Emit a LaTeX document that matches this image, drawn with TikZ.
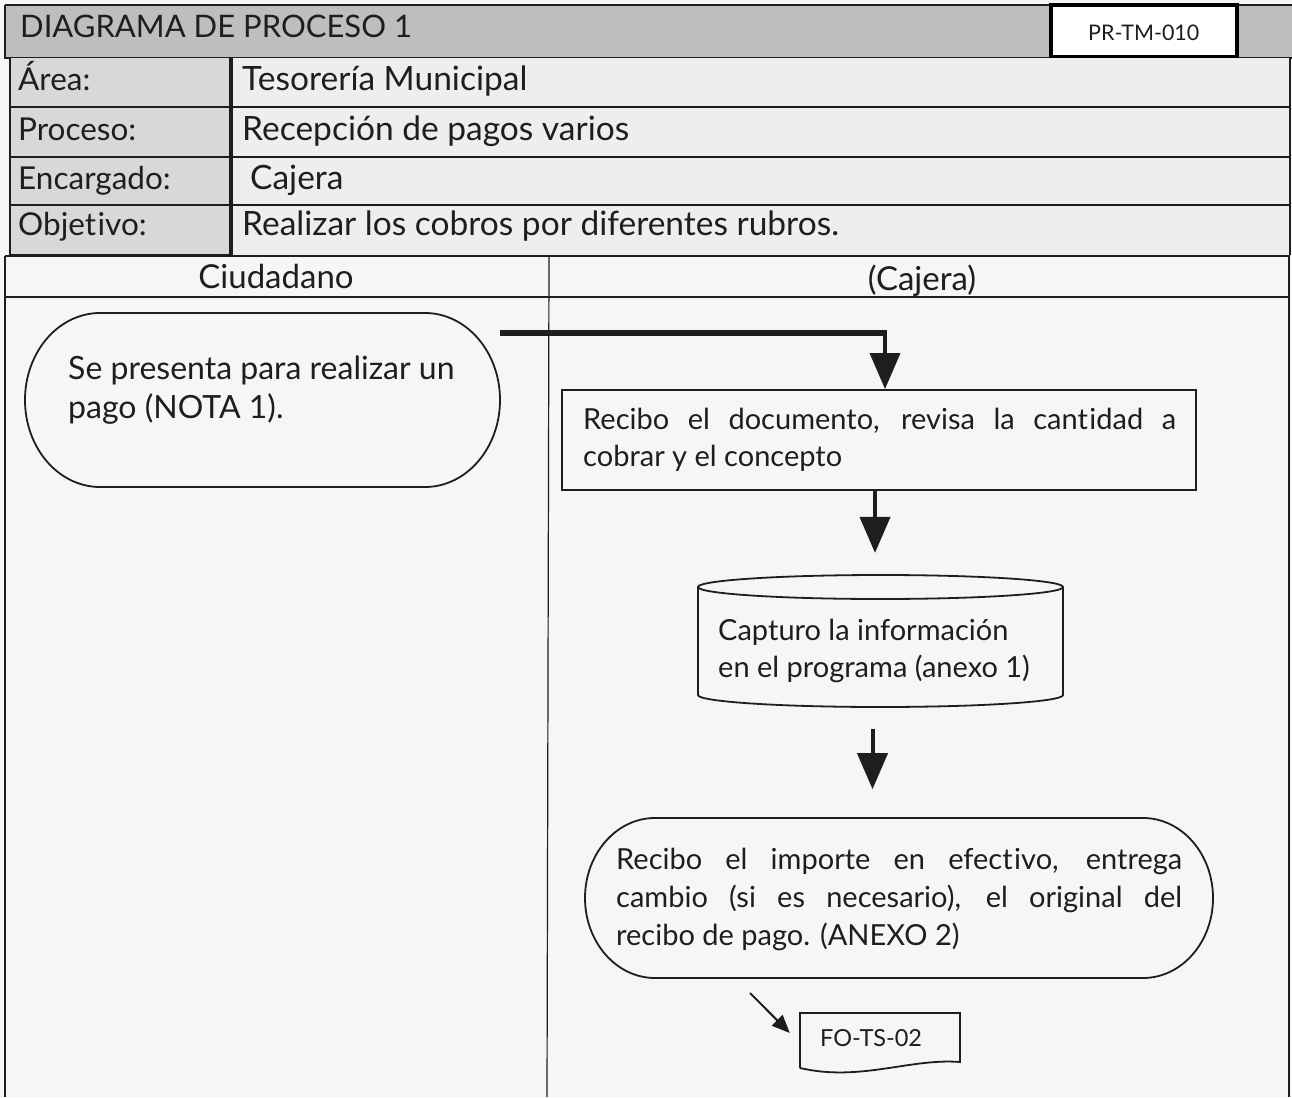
\documentclass[tikz,border=0pt]{standalone}
\usepackage{fontspec}
\setmainfont[Ligatures={NoCommon,NoContextual}]{Lato}
\usetikzlibrary{arrows.meta}
\definecolor{pagebg}{HTML}{F6F6F6}
\definecolor{bandgray}{HTML}{BEBEBE}
\definecolor{labelgray}{HTML}{D8D8D8}
\definecolor{cellgray}{HTML}{EEEEEE}
\definecolor{ink}{HTML}{1E1E1E}
% a touch of space between t and i so the letters stay apart
\newcommand{\tisep}{t\kern1.5pt i}
\tikzset{
  txt/.style={text=ink, inner sep=0pt, anchor=base west},
  titlefont/.style={txt, font=\fontsize{31}{37}\selectfont},
  labelfont/.style={txt, font=\fontsize{31.5}{38}\selectfont},
  valuefont/.style={txt, font=\fontsize{33.5}{40}\selectfont},
  lanefont/.style={txt, font=\fontsize{33}{40}\selectfont},
  startfont/.style={txt, font=\fontsize{32}{38}\selectfont},
  med/.style={txt, font=\fontsize{29}{35}\selectfont},
  codefont/.style={txt, font=\fontsize{21.5}{26}\selectfont},
  docfont/.style={txt, font=\fontsize{23.5}{28}\selectfont},
  frame/.style={draw=ink, line width=1.6pt},
  shapeline/.style={draw=ink, line width=1.8pt},
  bbox/.style={inner sep=0pt, minimum width=#1},
  flow/.style={draw=ink, line width=4pt, -{Triangle[length=36pt,width=30pt]}},
  thinflow/.style={draw=ink, line width=2pt, -{Triangle[length=18pt,width=15pt]}},
}
\begin{document}
\begin{tikzpicture}[x=1pt,y=1pt]
\useasboundingbox (0,0) rectangle (1292,-1097);
\fill[pagebg] (0,0) rectangle (1292,-1097);

% header band
\fill[bandgray] (5,-5) rectangle (1292,-58);
\draw[frame] (5,-5) -- (1292,-5);
\draw[frame] (5,-5) -- (5,-58) -- (1292,-58);
\node[titlefont] (title) at (20,-38) {DIAGRAMA DE PROCESO 1};
\node[draw=black, line width=4pt, fill=white, minimum width=186pt, minimum height=52pt, inner sep=0pt] (code) at (1144,-31) {};
\node[codefont] (codetxt) at (1088,-41) {PR-TM-010};

% information rows
\fill[labelgray] (10,-58) rectangle (230,-255);
\fill[cellgray] (232,-58) rectangle (1290,-255);
\foreach \yy in {107,157,205} {\draw[frame] (10,-\yy) -- (1290,-\yy);}
\draw[frame] (10,-58) -- (10,-255) -- (230,-255);
\draw[frame] (230,-58) -- (230,-255);
\draw[frame] (232,-58) -- (232,-255);
\draw[frame] (1290,-58) -- (1290,-255);

\node[labelfont] (lArea) at (18,-91) {Área:};
\node[valuefont] (vArea) at (242,-91) {Tesorería Municipal};
\node[labelfont] (lProc) at (18,-140) {Proceso:};
\node[valuefont] (vProc) at (242,-140) {Recepción de pagos varios};
\node[labelfont] (lEnc) at (18,-189) {Encargado:};
\node[valuefont] (vEnc) at (250,-189) {Cajera};
\node[labelfont] (lObj) at (18,-235) {Obje\tisep vo:};
\node[valuefont] (vObj) at (242,-235) {Realizar los cobros por diferentes rubros.};

% swimlanes
\draw[frame] (5,-256) -- (1290,-256);
\draw[frame] (5,-256) -- (5,-1097);
\draw[frame] (1289,-256) -- (1289,-1097);
\draw[frame] (5,-297) -- (1289,-297);
\draw[line width=1.2pt, ink] (549,-256) -- (547,-1097);
\node[lanefont, anchor=base] (laneA) at (276,-288) {Ciudadano};
\node[lanefont, anchor=base] (laneB) at (922,-290) {(Cajera)};

% start terminator
\node[bbox=475pt, minimum height=174pt] (start) at (262.5,-400) {};
\draw[shapeline] (100,-313) -- (425,-313) arc[start angle=90, end angle=-90, x radius=75, y radius=87]
  -- (100,-487) arc[start angle=270, end angle=90, x radius=75, y radius=87] -- cycle;
\node[startfont] (startA) at (68,-379) {Se presenta para realizar un};
\node[startfont] (startB) at (68,-418) {pago (NOTA 1).};

% reception step
\node[draw=ink, line width=1.8pt, minimum width=634pt, minimum height=100pt, inner sep=0pt] (recv) at (879,-440) {};
\node[med] (recvA) at (583,-429) {\makebox[593pt][s]{Recibo el documento, revisa la can\tisep dad a}};
\node[med] (recvB) at (583,-466) {cobrar y el concepto};

% data capture cylinder
\node[bbox=365pt, minimum height=132pt] (cap) at (880.5,-641) {};
\draw[shapeline] (698,-587) -- (698,-695) arc[start angle=180, end angle=360, x radius=182.5, y radius=12] -- (1063,-587);
\draw[shapeline] (880.5,-587) ellipse[x radius=182.5, y radius=12];
\node[med] (capA) at (718,-640) {Capturo la información};
\node[med] (capB) at (718,-677) {en el programa (anexo 1)};

% payment terminator
\node[bbox=628pt, minimum height=160pt] (pay) at (899,-898) {};
\draw[shapeline] (655,-818) -- (1143,-818) arc[start angle=90, end angle=-90, x radius=70, y radius=80]
  -- (655,-978) arc[start angle=270, end angle=90, x radius=70, y radius=80] -- cycle;
\node[med] (payA) at (616,-869) {\makebox[566pt][s]{Recibo el importe en efec\tisep vo, entrega}};
\node[med] (payB) at (616,-907) {\makebox[566pt][s]{cambio (si es necesario), el original del}};
\node[med] (payC) at (616,-945) {recibo de pago. (ANEXO 2)};

% receipt document
\node[bbox=160pt, minimum height=55pt] (doc) at (880,-1040) {};
\draw[shapeline] (800,-1068) -- (800,-1013) -- (960,-1013) -- (960,-1062)
  .. controls (910,-1058) and (860,-1082) .. (800,-1068);
\node[docfont] (docA) at (820,-1046) {FO-TS-02};

% connectors
\coordinate (startOut) at (500,-333);
\coordinate (bend) at (885,-333);
\draw[draw=ink, line width=6pt] (startOut) -- ([xshift=1.5pt]bend);
\draw[flow, line width=3.5pt] (bend) -- (bend |- recv.north);
\draw[flow] ([xshift=-4pt]recv.south) -- ([xshift=-4pt, yshift=-62pt]recv.south);
\draw[flow] ([xshift=-8pt, yshift=-22pt]cap.south) -- ([xshift=-8pt, yshift=-82pt]cap.south);
\coordinate (docIn) at (750,-993);
\draw[thinflow] (docIn) -- ([xshift=-10pt, yshift=7pt]doc.west);
\end{tikzpicture}
\end{document}
